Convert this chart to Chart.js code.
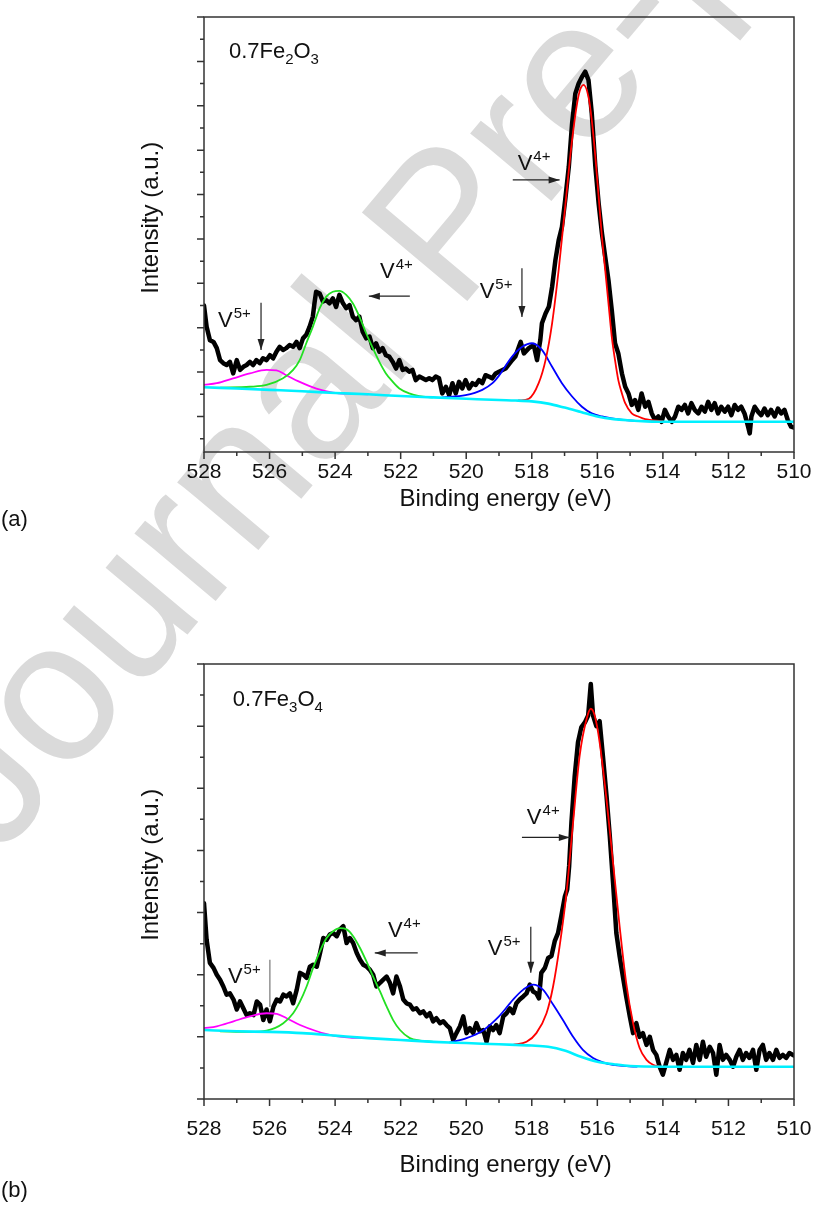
<!DOCTYPE html>
<html>
<head>
<meta charset="utf-8">
<title>V 2p XPS - 0.7Fe2O3 / 0.7Fe3O4</title>
<script src="https://cdn.jsdelivr.net/npm/chart.js@4.4.1/dist/chart.umd.min.js"></script>
<style>
  html, body { margin: 0; padding: 0; background: #fff; }
  body { width: 816px; height: 1207px; position: relative; overflow: hidden;
         font-family: 'Liberation Sans', Arial, sans-serif; }
  .wm { position: absolute; left: 0; top: 0; font-size: 200px; line-height: 1; color: #dadada;
        white-space: nowrap; transform-origin: 0 0; transform: translate(-130px, 750px) rotate(-50deg); z-index: 0; }
  .panel { position: absolute; left: 0; width: 816px; z-index: 1; }
  .tag { position: absolute; left: 1px; font-size: 22px; z-index: 2; color: #111; }
</style>
</head>
<body>
<div class="wm">Journal Pre-proof</div>
<div class="panel" style="top:0; height:560px"><canvas id="chartA"></canvas></div>
<div class="panel" style="top:647px; height:580px"><canvas id="chartB"></canvas></div>
<div class="tag" style="top:506px">(a)</div>
<div class="tag" style="top:1177px">(b)</div>

<script>
/* ─────────────────────────────────────────────
   DATA  (binding energy eV, intensity a.u.)
───────────────────────────────────────────── */
const xMajorTicks = [528, 526, 524, 522, 520, 518, 516, 514, 512, 510];
const xMinorTicks = [527, 525, 523, 521, 519, 517, 515, 513, 511];

const yMajorA = [0, 1, 2, 3, 4, 5, 6, 7, 8, 9];
const yMinorA = [-0.5, 0.5, 1.5, 2.5, 3.5, 4.5, 5.5, 6.5, 7.5, 8.5];
const yMajorB = [0, 1, 2, 3, 4, 5, 6, 7];
const yMinorB = [0.5, 1.5, 2.5, 3.5, 4.5, 5.5, 6.5];

// (a) 0.7Fe2O3 - measured spectrum
const aMeasured = [
  [528.0, 2.50], [527.92, 2.02], [527.82, 1.72], [527.71, 1.68], [527.61, 1.54], [527.51, 1.27],
  [527.41, 1.20], [527.31, 1.16], [527.21, 1.23], [527.11, 0.97], [527.00, 1.27], [526.90, 1.05],
  [526.80, 1.12], [526.70, 1.16], [526.60, 1.23], [526.50, 1.16], [526.40, 1.27], [526.30, 1.20],
  [526.20, 1.31], [526.09, 1.27], [525.99, 1.38], [525.89, 1.31], [525.79, 1.46], [525.69, 1.57],
  [525.59, 1.50], [525.49, 1.54], [525.39, 1.61], [525.28, 1.57], [525.18, 1.68], [525.08, 1.54],
  [524.98, 1.76], [524.88, 1.84], [524.78, 2.02], [524.68, 2.25], [524.63, 2.55], [524.58, 2.81],
  [524.47, 2.77], [524.37, 2.59], [524.27, 2.62], [524.17, 2.55], [524.07, 2.66], [523.97, 2.47],
  [523.87, 2.74], [523.76, 2.55], [523.66, 2.44], [523.56, 2.51], [523.46, 2.25], [523.36, 2.17],
  [523.26, 2.25], [523.16, 1.91], [523.05, 1.76], [522.95, 1.80], [522.85, 1.54], [522.75, 1.65],
  [522.65, 1.46], [522.55, 1.54], [522.45, 1.38], [522.35, 1.35], [522.24, 1.23], [522.14, 1.08],
  [522.04, 1.27], [521.94, 1.05], [521.84, 1.08], [521.74, 1.01], [521.64, 1.05], [521.54, 0.82],
  [521.43, 0.90], [521.33, 0.86], [521.23, 0.82], [521.13, 0.86], [521.03, 0.82], [520.93, 0.90],
  [520.83, 0.86], [520.73, 0.52], [520.62, 0.67], [520.52, 0.48], [520.42, 0.75], [520.32, 0.52],
  [520.22, 0.78], [520.12, 0.63], [520.02, 0.82], [519.91, 0.63], [519.81, 0.75], [519.71, 0.71],
  [519.61, 0.82], [519.51, 0.75], [519.41, 0.93], [519.31, 0.90], [519.21, 0.86], [519.10, 0.97],
  [519.00, 1.01], [518.80, 1.08], [518.60, 1.27], [518.50, 1.35], [518.34, 1.68], [518.24, 1.42],
  [518.09, 1.54], [517.94, 1.61], [517.84, 1.27], [517.74, 1.72], [517.69, 2.10], [517.58, 2.32],
  [517.48, 2.47], [517.38, 2.92], [517.28, 3.52], [517.18, 3.97], [517.08, 4.27], [516.98, 4.88],
  [516.87, 5.63], [516.77, 6.60], [516.67, 7.28], [516.57, 7.50], [516.47, 7.65], [516.37, 7.77],
  [516.27, 7.58], [516.17, 6.83], [516.06, 5.63], [515.96, 4.80], [515.86, 4.13], [515.76, 3.60],
  [515.66, 3.07], [515.56, 2.40], [515.46, 1.65], [515.36, 1.42], [515.25, 0.97], [515.15, 0.67],
  [515.05, 0.52], [514.95, 0.26], [514.85, 0.37], [514.75, 0.15], [514.65, 0.52], [514.54, 0.22],
  [514.44, 0.33], [514.34, 0.07], [514.24, -0.08], [514.14, 0.00], [514.04, -0.12], [513.94, 0.15],
  [513.84, 0.00], [513.73, -0.12], [513.63, 0.00], [513.53, 0.22], [513.43, 0.15], [513.33, 0.26],
  [513.23, 0.07], [513.13, 0.30], [513.03, 0.15], [512.92, 0.07], [512.82, 0.22], [512.72, 0.11],
  [512.62, 0.33], [512.52, 0.15], [512.42, 0.30], [512.32, 0.07], [512.22, 0.22], [512.11, 0.11],
  [512.01, 0.22], [511.91, 0.03], [511.81, 0.26], [511.71, 0.15], [511.61, 0.22], [511.51, 0.07],
  [511.40, -0.23], [511.35, -0.38], [511.30, 0.00], [511.20, 0.22], [511.10, 0.11], [511.00, 0.03],
  [510.90, 0.18], [510.80, 0.03], [510.70, 0.15], [510.59, 0.00], [510.49, 0.18], [510.39, 0.07],
  [510.29, 0.15], [510.19, -0.08], [510.09, -0.23], [510.0, -0.25],
];
// (a) fitted components
const aBackground = [
  [528, 0.66], [527, 0.63], [526, 0.60], [525, 0.57], [524, 0.53], [523, 0.50], [522, 0.46],
  [521, 0.43], [520, 0.40], [519, 0.37], [518.5, 0.36], [518, 0.34], [517.5, 0.29], [517, 0.20],
  [516.5, 0.10], [516, 0.00], [515.5, -0.06], [515, -0.09], [514.5, -0.11], [514, -0.12],
  [512, -0.12], [510, -0.12],
];
const aV5Upper = [   // V5+ 2p1/2, magenta
  [528, 0.71], [527.61, 0.75], [527.11, 0.86], [526.6, 0.97], [526.09, 1.05], [525.79, 1.04],
  [525.49, 0.93], [525.08, 0.78], [524.57, 0.63], [524.07, 0.54], [523.56, 0.51], [523.0, 0.50],
];
const aV4Upper = [   // V4+ 2p1/2, green
  [527.5, 0.65], [526.6, 0.67], [526.09, 0.71], [525.59, 0.86], [525.28, 1.05], [525.08, 1.27],
  [524.88, 1.65], [524.68, 2.02], [524.47, 2.44], [524.27, 2.70], [524.07, 2.81], [523.87, 2.83],
  [523.66, 2.74], [523.46, 2.55], [523.26, 2.25], [523.05, 1.87], [522.85, 1.54], [522.65, 1.23],
  [522.45, 0.97], [522.24, 0.78], [522.04, 0.63], [521.74, 0.52], [521.43, 0.46], [521.03, 0.43],
];
const aV5Lower = [   // V5+ 2p3/2, blue
  [520.73, 0.43], [520.02, 0.48], [519.51, 0.60], [519.2, 0.75], [519.0, 0.92], [518.6, 1.35],
  [518.29, 1.57], [517.99, 1.65], [517.69, 1.50], [517.38, 1.12], [517.08, 0.75], [516.77, 0.45],
  [516.47, 0.22], [516.17, 0.07], [515.86, 0.00], [515.56, -0.04], [515.15, -0.08], [514.8, -0.10],
];
const aV4Lower = [   // V4+ 2p3/2, red
  [518.4, 0.36], [518.09, 0.40], [517.79, 0.75], [517.58, 1.27], [517.38, 2.10], [517.18, 3.30],
  [516.98, 4.73], [516.77, 6.23], [516.57, 7.24], [516.42, 7.47], [516.27, 7.20], [516.17, 6.68],
  [516.06, 5.85], [515.96, 4.95], [515.86, 4.05], [515.76, 3.30], [515.66, 2.55], [515.56, 1.80],
  [515.46, 1.27], [515.36, 0.82], [515.25, 0.52], [515.15, 0.30], [514.95, 0.07], [514.75, 0.00],
  [514.54, -0.06], [514.34, -0.08], [514.0, -0.11],
];

// (b) 0.7Fe3O4 - measured spectrum
const bMeasured = [
  [528.0, 3.15], [527.92, 2.56], [527.82, 2.19], [527.71, 2.11], [527.61, 2.00], [527.51, 1.92],
  [527.41, 1.81], [527.31, 1.68], [527.21, 1.70], [527.10, 1.60], [527.00, 1.44], [526.90, 1.57],
  [526.80, 1.46], [526.70, 1.35], [526.60, 1.38], [526.49, 1.35], [526.39, 1.57], [526.29, 1.52],
  [526.19, 1.27], [526.09, 1.44], [525.99, 1.25], [525.88, 1.49], [525.78, 1.60], [525.68, 1.57],
  [525.58, 1.68], [525.48, 1.65], [525.38, 1.70], [525.28, 1.54], [525.17, 1.76], [525.07, 2.03],
  [524.97, 2.00], [524.87, 1.95], [524.77, 2.13], [524.67, 2.16], [524.56, 2.13], [524.46, 2.35],
  [524.36, 2.59], [524.26, 2.56], [524.16, 2.65], [524.06, 2.67], [523.95, 2.62], [523.85, 2.73],
  [523.75, 2.78], [523.65, 2.51], [523.55, 2.59], [523.45, 2.51], [523.34, 2.35], [523.24, 2.24],
  [523.14, 2.16], [523.04, 2.13], [522.94, 2.08], [522.84, 2.00], [522.74, 1.81], [522.63, 1.87],
  [522.53, 1.92], [522.43, 1.97], [522.33, 1.87], [522.23, 1.70], [522.13, 1.97], [522.02, 1.81],
  [521.92, 1.60], [521.82, 1.54], [521.72, 1.52], [521.62, 1.44], [521.52, 1.46], [521.41, 1.38],
  [521.31, 1.41], [521.21, 1.33], [521.11, 1.38], [521.01, 1.25], [520.91, 1.30], [520.80, 1.22],
  [520.70, 1.25], [520.60, 1.19], [520.50, 1.14], [520.40, 0.95], [520.30, 1.06], [520.19, 1.17],
  [520.09, 1.33], [519.99, 1.06], [519.89, 1.14], [519.79, 1.06], [519.69, 1.22], [519.59, 1.09],
  [519.48, 1.11], [519.38, 0.92], [519.28, 1.17], [519.18, 1.11], [519.08, 1.19], [518.98, 1.06],
  [518.87, 1.33], [518.77, 1.38], [518.67, 1.46], [518.57, 1.38], [518.47, 1.54], [518.37, 1.60],
  [518.26, 1.65], [518.16, 1.70], [518.06, 1.84], [517.96, 1.73], [517.86, 1.70], [517.78, 1.62],
  [517.71, 2.03], [517.60, 2.11], [517.50, 2.27], [517.40, 2.30], [517.30, 2.54], [517.20, 2.67],
  [517.10, 2.94], [516.99, 3.26], [516.92, 3.37], [516.86, 3.75], [516.79, 4.45], [516.69, 5.20],
  [516.59, 5.74], [516.49, 5.98], [516.38, 6.06], [516.28, 6.17], [516.20, 6.68], [516.13, 6.17],
  [516.03, 6.00], [515.93, 6.08], [515.83, 5.52], [515.72, 4.88], [515.62, 4.23], [515.52, 3.48],
  [515.42, 2.67], [515.32, 2.30], [515.22, 1.97], [515.12, 1.65], [515.01, 1.33], [514.91, 1.06],
  [514.81, 1.22], [514.71, 1.00], [514.61, 1.06], [514.50, 0.87], [514.40, 1.00], [514.30, 0.79],
  [514.20, 0.71], [514.10, 0.52], [514.00, 0.39], [513.90, 0.58], [513.79, 0.79], [513.69, 0.63],
  [513.59, 0.71], [513.49, 0.47], [513.39, 0.74], [513.29, 0.63], [513.19, 0.79], [513.08, 0.58],
  [512.98, 0.87], [512.88, 0.63], [512.78, 0.92], [512.68, 0.68], [512.57, 0.84], [512.47, 0.74],
  [512.37, 0.39], [512.27, 0.87], [512.17, 0.63], [512.07, 0.71], [511.96, 0.63], [511.86, 0.52],
  [511.76, 0.68], [511.66, 0.79], [511.56, 0.63], [511.46, 0.74], [511.36, 0.66], [511.25, 0.79],
  [511.15, 0.47], [511.05, 0.79], [510.95, 0.87], [510.85, 0.63], [510.75, 0.74], [510.64, 0.63],
  [510.54, 0.79], [510.44, 0.66], [510.34, 0.71], [510.24, 0.66], [510.14, 0.74], [510.0, 0.70],
];
// (b) fitted components
const bBackground = [
  [528, 1.11], [527, 1.09], [526, 1.08], [525, 1.06], [524, 1.02], [523, 0.98], [522, 0.95],
  [521, 0.92], [520, 0.90], [519, 0.88], [518.5, 0.87], [518, 0.86], [517.5, 0.84], [517, 0.78],
  [516.5, 0.68], [516, 0.60], [515.5, 0.56], [515, 0.53], [514, 0.52], [510, 0.52],
];
const bV5Upper = [
  [528, 1.14], [527.61, 1.17], [527.1, 1.25], [526.6, 1.33], [526.09, 1.38], [525.78, 1.37],
  [525.48, 1.30], [525.07, 1.19], [524.56, 1.09], [524.06, 1.02], [523.55, 0.99], [523.0, 0.98],
];
const bV4Upper = [
  [527.5, 1.09], [526.6, 1.08], [526.09, 1.10], [525.58, 1.22], [525.28, 1.38], [525.07, 1.57],
  [524.87, 1.81], [524.67, 2.11], [524.46, 2.38], [524.26, 2.59], [524.06, 2.70], [523.85, 2.75],
  [523.65, 2.73], [523.45, 2.62], [523.24, 2.43], [523.04, 2.21], [522.84, 1.97], [522.63, 1.73],
  [522.43, 1.49], [522.23, 1.27], [522.02, 1.11], [521.72, 0.98], [521.41, 0.94], [521.0, 0.92],
];
const bV5Lower = [
  [520.5, 0.91], [519.99, 0.98], [519.5, 1.10], [519.0, 1.33], [518.57, 1.60], [518.26, 1.76],
  [517.96, 1.84], [517.66, 1.76], [517.35, 1.52], [517.05, 1.27], [516.74, 1.00], [516.44, 0.79],
  [516.13, 0.66], [515.83, 0.59], [515.52, 0.55], [515.12, 0.53], [514.8, 0.52],
];
const bV4Lower = [
  [518.57, 0.87], [518.16, 0.92], [517.86, 1.06], [517.55, 1.38], [517.35, 1.81], [517.15, 2.46],
  [516.94, 3.32], [516.74, 4.45], [516.54, 5.52], [516.33, 6.11], [516.2, 6.28], [516.08, 6.17],
  [515.93, 5.74], [515.72, 4.82], [515.52, 3.80], [515.32, 2.78], [515.12, 1.87], [514.91, 1.22],
  [514.71, 0.82], [514.5, 0.63], [514.3, 0.55], [514.1, 0.52],
];

// annotations, placed in data coordinates
const notesA = [
  { text: '0.7Fe_2O_3', e: 527.24, v: 8.07 },
  { text: 'V^4+', e: 518.43, v: 5.55 },
  { text: 'V^4+', e: 522.63, v: 3.12 },
  { text: 'V^5+', e: 527.57, v: 2.02 },
  { text: 'V^5+', e: 519.59, v: 2.67 },
];
const arrowsA = [
  { from: [518.58, 5.33], to: [517.15, 5.33] },
  { from: [521.72, 2.71], to: [522.97, 2.71] },
  { from: [526.26, 2.56], to: [526.26, 1.50] },
  { from: [518.30, 3.34], to: [518.30, 2.24] },
];
const notesB = [
  { text: '0.7Fe_3O_4', e: 527.12, v: 6.32 },
  { text: 'V^4+', e: 518.15, v: 4.42 },
  { text: 'V^4+', e: 522.39, v: 2.61 },
  { text: 'V^5+', e: 527.27, v: 1.87 },
  { text: 'V^5+', e: 519.34, v: 2.32 },
];
const arrowsB = [
  { from: [518.30, 4.21], to: [516.84, 4.21] },
  { from: [521.48, 2.35], to: [522.79, 2.35] },
  { from: [525.99, 2.24], to: [525.99, 1.48], plain: true },
  { from: [518.03, 2.77], to: [518.03, 2.03] },
];

/* ─────────────────────────────────────────────
   HELPERS
───────────────────────────────────────────── */
const FONT = "'Liberation Sans', Arial, sans-serif";
Chart.defaults.font.family = FONT;
Chart.defaults.color = '#111';

const toXY = (pairs) => pairs.map(([x, y]) => ({ x, y }));

function line(label, pairs, color, width, smooth) {
  return {
    label,
    data: toXY(pairs),
    showLine: true,
    borderColor: color,
    backgroundColor: color,
    borderWidth: width,
    pointRadius: 0,
    tension: 0,
    cubicInterpolationMode: smooth ? 'monotone' : 'default',
    borderJoinStyle: 'round',
    borderCapStyle: 'round',
  };
}

// '_' subscripts the next char, '^' superscripts the rest
function drawRich(ctx, x, y, text) {
  let cx = x;
  for (let i = 0; i < text.length; i++) {
    const c = text[i];
    if (c === '_') {
      ctx.font = `15px ${FONT}`;
      ctx.fillText(text[i + 1], cx, y + 6);
      cx += ctx.measureText(text[i + 1]).width;
      i++;
    } else if (c === '^') {
      const s = text.slice(i + 1);
      ctx.font = `15px ${FONT}`;
      ctx.fillText(s, cx + 1, y - 9);
      break;
    } else {
      ctx.font = `22px ${FONT}`;
      ctx.fillText(c, cx, y);
      cx += ctx.measureText(c).width;
    }
  }
}

function drawArrow(ctx, x1, y1, x2, y2, plain) {
  ctx.strokeStyle = plain ? '#777' : '#222';
  ctx.fillStyle = plain ? '#777' : '#222';
  ctx.lineWidth = 1.2;
  ctx.beginPath();
  ctx.moveTo(x1, y1);
  ctx.lineTo(x2, y2);
  ctx.stroke();
  if (plain) return;
  const ang = Math.atan2(y2 - y1, x2 - x1);
  const L = 11, W = 3.5;
  ctx.beginPath();
  ctx.moveTo(x2, y2);
  ctx.lineTo(x2 - L * Math.cos(ang) + W * Math.sin(ang), y2 - L * Math.sin(ang) - W * Math.cos(ang));
  ctx.lineTo(x2 - L * Math.cos(ang) - W * Math.sin(ang), y2 - L * Math.sin(ang) + W * Math.cos(ang));
  ctx.closePath();
  ctx.fill();
}

/* ─────────────────────────────────────────────
   PLUGINS: frame + ticks, annotations
───────────────────────────────────────────── */
const framePlugin = {
  id: 'frame',
  afterDatasetsDraw(chart, args, opts) {
    const { ctx, chartArea: a, scales: { x, y } } = chart;
    ctx.save();
    ctx.strokeStyle = '#333';
    ctx.lineWidth = 1.5;
    ctx.strokeRect(a.left, a.top, a.right - a.left, a.bottom - a.top);
    ctx.beginPath();
    xMajorTicks.forEach((v) => { const p = x.getPixelForValue(v); ctx.moveTo(p, a.bottom); ctx.lineTo(p, a.bottom + 7); });
    xMinorTicks.forEach((v) => { const p = x.getPixelForValue(v); ctx.moveTo(p, a.bottom); ctx.lineTo(p, a.bottom + 4); });
    opts.major.forEach((v) => { const p = y.getPixelForValue(v); ctx.moveTo(a.left, p); ctx.lineTo(a.left - 7, p); });
    opts.minor.forEach((v) => { const p = y.getPixelForValue(v); ctx.moveTo(a.left, p); ctx.lineTo(a.left - 4, p); });
    ctx.stroke();
    ctx.restore();
  },
};

const notesPlugin = {
  id: 'notes',
  afterDatasetsDraw(chart, args, opts) {
    const { ctx, scales: { x, y } } = chart;
    ctx.save();
    ctx.fillStyle = '#111';
    ctx.textBaseline = 'alphabetic';
    opts.notes.forEach((n) => drawRich(ctx, x.getPixelForValue(n.e), y.getPixelForValue(n.v), n.text));
    opts.arrows.forEach((a) => drawArrow(ctx,
      x.getPixelForValue(a.from[0]), y.getPixelForValue(a.from[1]),
      x.getPixelForValue(a.to[0]), y.getPixelForValue(a.to[1]), a.plain));
    ctx.restore();
  },
};

/* ─────────────────────────────────────────────
   PANEL BUILDER
───────────────────────────────────────────── */
// the titles sit a little off-centre in the original; leading nbsp nudges them
const NB = '\u00a0';

function buildPanel(canvas, cfg) {
  return new Chart(canvas, {
    type: 'scatter',
    data: {
      // index 0 is painted last (on top)
      datasets: [
        line('Background', cfg.bg, '#00f0ff', 2.6, true),
        line('V4+ 2p3/2', cfg.v4l, '#ff0000', 1.8, true),
        line('V5+ 2p3/2', cfg.v5l, '#0000ff', 1.8, true),
        line('V4+ 2p1/2', cfg.v4u, '#22e022', 1.8, true),
        line('V5+ 2p1/2', cfg.v5u, '#ff00ff', 1.8, true),
        line('Measured', cfg.measured, '#000000', 4.5, false),
      ],
    },
    options: {
      responsive: true,
      maintainAspectRatio: false,
      animation: false,
      layout: { padding: { left: 134, right: 22, top: 17, bottom: 38 } },
      plugins: {
        legend: { display: false },
        tooltip: { enabled: false },
        frame: { major: cfg.yMajor, minor: cfg.yMinor },
        notes: { notes: cfg.notes, arrows: cfg.arrows },
      },
      scales: {
        x: {
          type: 'linear',
          reverse: true,
          min: 510,
          max: 528,
          grid: { display: false, drawTicks: false },
          border: { display: false },
          ticks: { stepSize: 2, padding: cfg.tickPad, color: '#111', font: { size: 21, lineHeight: 1.2 } },
          title: {
            display: true, text: NB.repeat(2) + 'Binding energy (eV)', color: '#111',
            font: { size: 24, lineHeight: 1.2 }, padding: { top: 0, bottom: cfg.titlePad },
          },
          afterFit: (s) => { s.height = cfg.axisH; s.paddingLeft = 0; s.paddingRight = 0; },
        },
        y: {
          min: cfg.yMin,
          max: cfg.yMax,
          grid: { display: false, drawTicks: false },
          border: { display: false },
          ticks: { display: false },
          title: {
            display: true, text: NB.repeat(5) + 'Intensity (a.u.)', color: '#111',
            font: { size: 24, lineHeight: 1.2 }, padding: { top: 3, bottom: 0 },
          },
          afterFit: (s) => { s.width = 70; },
        },
      },
    },
    plugins: [framePlugin, notesPlugin],
  });
}

/* ─────────────────────────────────────────────
   INIT
───────────────────────────────────────────── */
buildPanel(document.getElementById('chartA'), {
  measured: aMeasured, bg: aBackground, v5u: aV5Upper, v4u: aV4Upper, v5l: aV5Lower, v4l: aV4Lower,
  yMin: -0.8, yMax: 9, yMajor: yMajorA, yMinor: yMinorA, notes: notesA, arrows: arrowsA,
  tickPad: 8, titlePad: 8, axisH: 70,
});
buildPanel(document.getElementById('chartB'), {
  measured: bMeasured, bg: bBackground, v5u: bV5Upper, v4u: bV4Upper, v5l: bV5Lower, v4l: bV4Lower,
  yMin: 0, yMax: 7, yMajor: yMajorB, yMinor: yMinorB, notes: notesB, arrows: arrowsB,
  tickPad: 18, titlePad: 9, axisH: 90,
});
</script>
</body>
</html>
